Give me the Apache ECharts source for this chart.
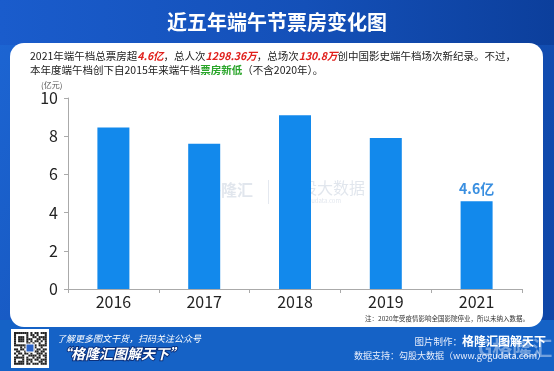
<!DOCTYPE html>
<html><head><meta charset="utf-8">
<script src="https://cdn.jsdelivr.net/npm/echarts@6/dist/echarts.min.js"></script>
<style>html,body{margin:0;padding:0;background:#1558c0;}#c{width:554px;height:371px;}</style>
</head><body><div id="c"></div>
<script>
var categories = ['2016', '2017', '2018', '2019', '2021'];
var boxOffice = [8.45, 7.6, 9.1, 7.9, 4.6];
var lastLabel = '4.6亿';
var yTicks = [0, 2, 4, 6, 8, 10];

var F = '"Noto Sans CJK SC", "Noto Sans", sans-serif';
var chart = echarts.init(document.getElementById('c'));

var barData = boxOffice.map(function (v, i) {
  if (i === boxOffice.length - 1) {
    return { value: v, label: { show: true, position: 'top', distance: 5, formatter: lastLabel,
      color: '#3a8fe0', fontSize: 14, fontWeight: 'bold', fontFamily: F } };
  }
  return v;
});

var qr = [];
var pattern = [
  '1111111010110111','1000001011010001','1011101001101111','1011101110011011',
  '1011101010110101','1000001101001001','1111111010101111','0001010110100100',
  '1101101011011011','0110010100110110','1011011010011101','0100100111101011',
  '1111101001011001','1000101110110111','1011101010001101','1111101101110111'];
for (var r = 0; r < 16; r++) for (var c = 0; c < 16; c++) if (pattern[r][c] === '1')
  qr.push({ type: 'rect', shape: { x: 14 + c * 2.05, y: 332 + r * 2.05, width: 2.05, height: 2.05 }, style: { fill: '#222' }, silent: true });

chart.setOption({
  animation: false,
  backgroundColor: {
    type: 'linear', x: 0, y: 0, x2: 1, y2: 1,
    colorStops: [{ offset: 0, color: '#1d66d4' }, { offset: 0.5, color: '#1452b8' }, { offset: 1, color: '#0e45a6' }]
  },
  graphic: [
    { type: 'rect', z: -10, shape: { x: 0, y: 0, width: 554, height: 45 },
      style: { fill: { type: 'linear', x: 0, y: 0, x2: 1, y2: 0, colorStops: [{ offset: 0, color: '#1a5ccc' }, { offset: 0.55, color: '#1450b8' }, { offset: 1, color: '#0c3f9c' }] } }, silent: true },
    { type: 'rect', z: -10, shape: { x: 0, y: 320, width: 554, height: 51 }, style: { fill: '#1562c6' }, silent: true },
    { type: 'rect', z: -9, shape: { x: 10, y: 43, width: 533, height: 284, r: 14 }, style: { fill: '#ffffff' }, silent: true },
    { type: 'text', left: 'center', top: 12, style: { text: '近五年端午节票房变化图', fill: '#ffffff', font: 'bold 20px ' + F,
      shadowColor: 'rgba(0,0,40,0.5)', shadowBlur: 3 }, silent: true },
    { type: 'text', x: 30, y: 51, style: {
      text: '2021年端午档总票房超{r|4.6亿}，总人次{r|1298.36万}，总场次{r|130.8万}创中国影史端午档场次新纪录。不过，',
      fill: '#222', font: '10.5px ' + F,
      rich: { r: { fill: '#e0201c', fontWeight: 'bold', fontStyle: 'italic', fontSize: 10.5, fontFamily: F } } }, silent: true },
    { type: 'text', x: 30, y: 65, style: {
      text: '本年度端午档创下自2015年来端午档{g|票房新低}（不含2020年）。',
      fill: '#222', font: '10.5px ' + F,
      rich: { g: { fill: '#2aa52a', fontWeight: 'bold', fontSize: 10.5, fontFamily: F } } }, silent: true },
    { type: 'text', x: 41, y: 81, style: { text: '(亿元)', fill: '#555', font: '8px ' + F }, silent: true },
    { type: 'text', x: 190, y: 182, z: -5, style: { text: 'G 格隆汇', fill: 'rgba(120,140,175,0.22)', font: 'bold 16px ' + F }, silent: true },
    { type: 'rect', z: -5, shape: { x: 268, y: 180, width: 1, height: 24 }, style: { fill: 'rgba(120,140,175,0.2)' }, silent: true },
    { type: 'text', x: 285, y: 180, z: -5, style: { text: '勾股大数据', fill: 'rgba(120,140,175,0.22)', font: '16px ' + F }, silent: true },
    { type: 'text', x: 285, y: 198, z: -5, style: { text: 'www.gogudata.com', fill: 'rgba(120,140,175,0.22)', font: '6px ' + F }, silent: true },
    { type: 'text', right: 25, y: 315, style: { text: '注：2020年受疫情影响全国影院停业，所以未纳入数据。', fill: '#333', font: '6.5px ' + F }, silent: true },
    { type: 'rect', shape: { x: 11, y: 329, width: 38, height: 39 }, style: { fill: '#ffffff' }, silent: true },
    { type: 'group', children: qr },
    { type: 'rect', shape: { x: 26, y: 344, width: 8, height: 8 }, style: { fill: '#2a63c8', stroke: '#fff', lineWidth: 1 }, silent: true },
    { type: 'text', x: 57, y: 334, style: { text: '了解更多图文干货，扫码关注公众号', fill: '#ffffff', font: 'italic 9px ' + F }, silent: true },
    { type: 'text', x: 57, y: 347, style: { text: '“格隆汇图解天下”', fill: '#ffffff', font: 'italic bold 14px ' + F,
      stroke: '#0b2f7a', lineWidth: 2 }, silent: true },
    { type: 'text', right: 8, y: 335, style: { text: '图片制作：{b|格隆汇图解天下}', fill: '#e8eefc', font: '9.5px ' + F,
      rich: { b: { fill: '#ffffff', fontWeight: 'bold', fontSize: 12, fontFamily: F } } }, silent: true },
    { type: 'text', right: 8, y: 351, style: { text: '数据支持：勾股大数据（www.gogudata.com）', fill: '#e8eefc', font: '9px ' + F }, silent: true },
    { type: 'text', x: 478, y: 338, style: { text: 'G格隆汇', fill: 'rgba(255,255,255,0.4)', font: 'bold 20px ' + F }, silent: true }
  ],
  grid: { left: 68, right: 32, top: 98, bottom: 82, containLabel: false },
  xAxis: {
    type: 'category', data: categories,
    axisLine: { lineStyle: { color: '#aaa', width: 1 } },
    axisTick: { show: true, length: 4, lineStyle: { color: '#aaa' } },
    axisLabel: { color: '#222', fontSize: 16, fontFamily: F, margin: 5 }
  },
  yAxis: {
    type: 'value', min: 0, max: 10, interval: 2,
    axisLine: { show: true, lineStyle: { color: '#aaa', width: 1 } },
    axisTick: { show: true, length: 4, lineStyle: { color: '#aaa' } },
    splitLine: { show: false },
    axisLabel: { color: '#222', fontSize: 16, fontFamily: F, margin: 10,
      formatter: function (v) { return yTicks.indexOf(v) >= 0 ? String(v) : ''; } }
  },
  series: [{ type: 'bar', data: barData, barWidth: 32, itemStyle: { color: '#1289ec' } }]
});
</script></body></html>
